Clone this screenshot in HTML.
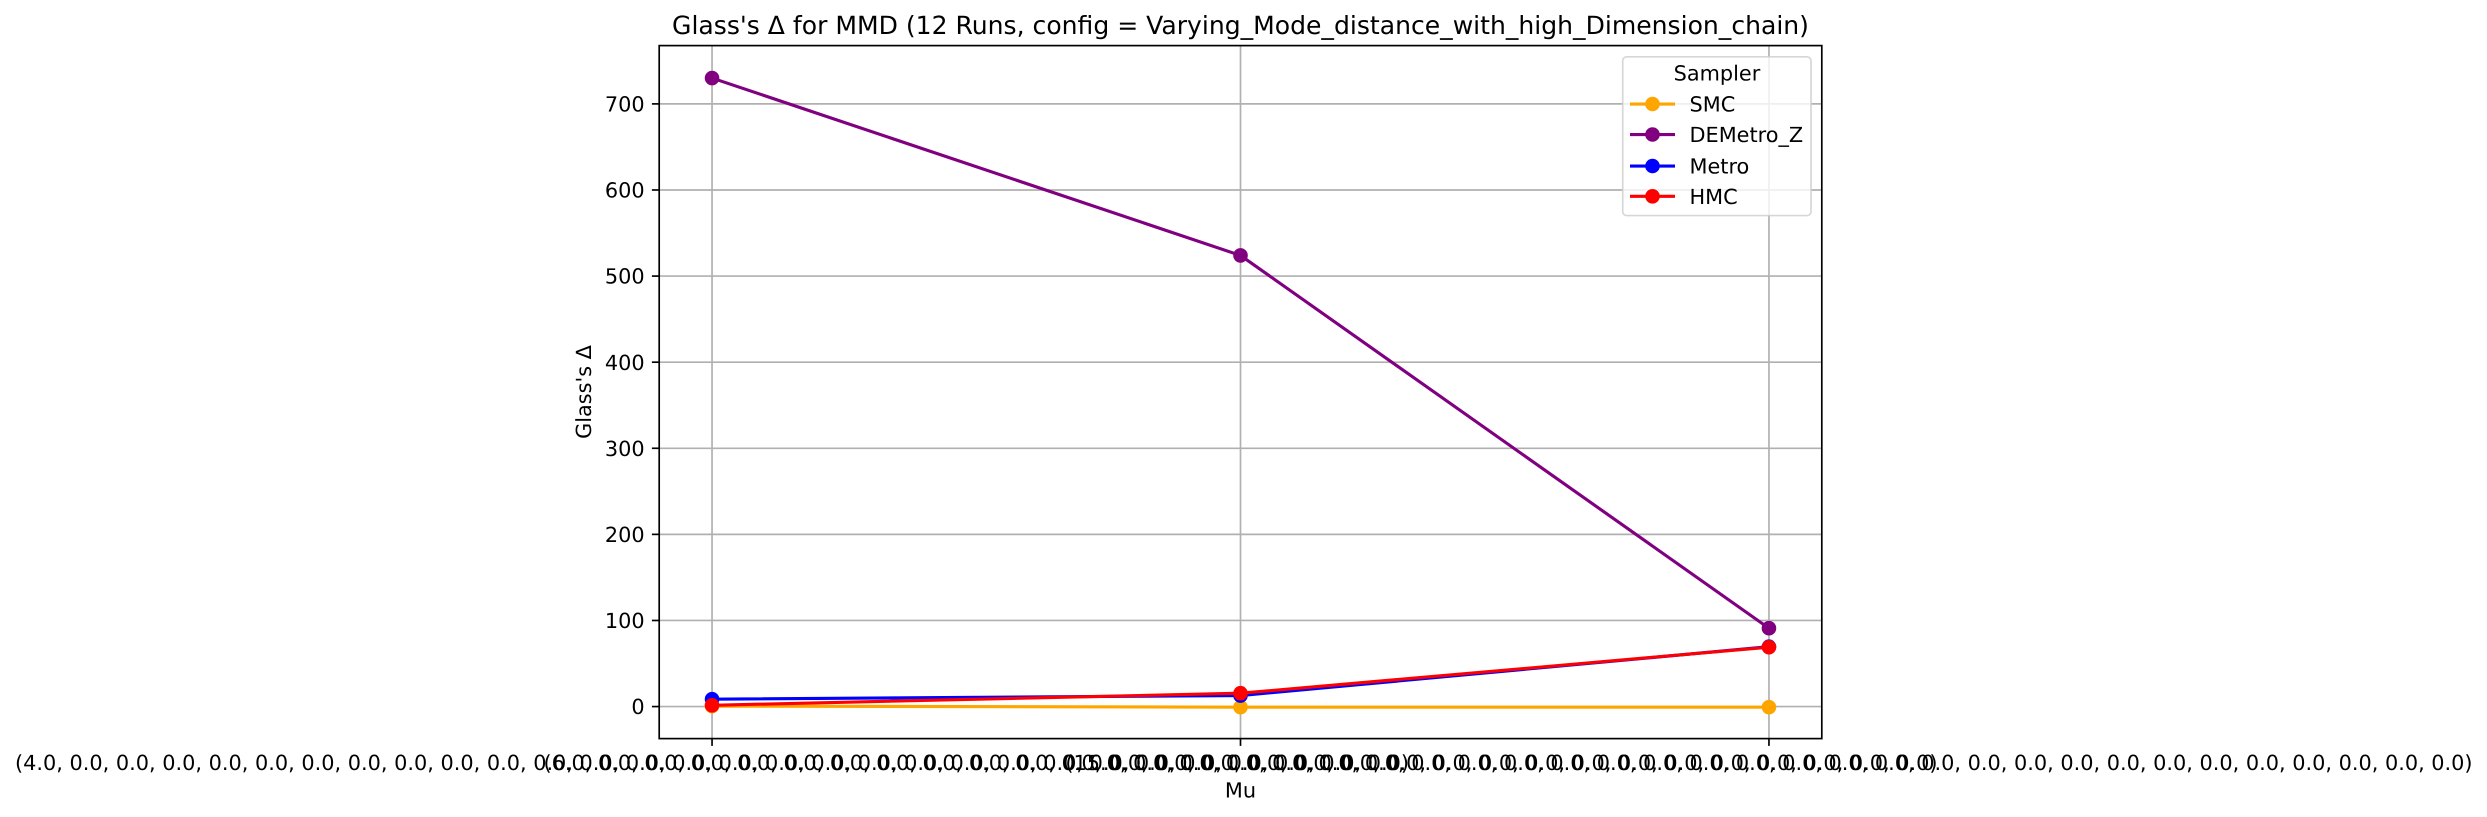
<!DOCTYPE html>
<html>
<head>
<meta charset="utf-8">
<style>
html,body{margin:0;padding:0;background:#fff;width:2487px;height:817px;overflow:hidden}
svg{display:block}
text{font-family:"DejaVu Sans","Liberation Sans",sans-serif;fill:#000;text-rendering:geometricPrecision}
</style>
</head>
<body>
<svg id="chart" width="2487" height="817" viewBox="0 0 2487 817" xmlns="http://www.w3.org/2000/svg">
<rect x="0" y="0" width="2487" height="817" fill="#fff"/>
<g id="grid"></g>
<g id="series"></g>
<rect x="659.2" y="45.6" width="1162.6" height="693" fill="none" stroke="#000" stroke-width="1.67"/>
<g id="ticks"></g>
<text x="1240.5" y="34" font-size="25.07" text-anchor="middle">Glass's Δ for MMD (12 Runs, config = Varying_Mode_distance_with_high_Dimension_chain)</text>
<text x="1240.5" y="797.5" font-size="20.83" text-anchor="middle">Mu</text>
<text transform="translate(591 392) rotate(-90)" font-size="20.83" text-anchor="middle">Glass's Δ</text>
<g id="legend">
<rect x="1622.7" y="56.8" width="188.3" height="158.8" rx="4" ry="4" fill="#fff" fill-opacity="0.8" stroke="#ccc" stroke-opacity="0.8" stroke-width="1.67"/>
<text x="1717" y="80.7" font-size="20.83" text-anchor="middle">Sampler</text>
</g>
</svg>
<script>
const categories = [
  "(4.0, 0.0, 0.0, 0.0, 0.0, 0.0, 0.0, 0.0, 0.0, 0.0, 0.0, 0.0, 0.0, 0.0, 0.0, 0.0, 0.0, 0.0, 0.0, 0.0, 0.0, 0.0, 0.0, 0.0, 0.0, 0.0, 0.0, 0.0, 0.0, 0.0)",
  "(6.0, 0.0, 0.0, 0.0, 0.0, 0.0, 0.0, 0.0, 0.0, 0.0, 0.0, 0.0, 0.0, 0.0, 0.0, 0.0, 0.0, 0.0, 0.0, 0.0, 0.0, 0.0, 0.0, 0.0, 0.0, 0.0, 0.0, 0.0, 0.0, 0.0)",
  "(15.0, 0.0, 0.0, 0.0, 0.0, 0.0, 0.0, 0.0, 0.0, 0.0, 0.0, 0.0, 0.0, 0.0, 0.0, 0.0, 0.0, 0.0, 0.0, 0.0, 0.0, 0.0, 0.0, 0.0, 0.0, 0.0, 0.0, 0.0, 0.0, 0.0)"
];
const yTicks = [0, 100, 200, 300, 400, 500, 600, 700];
const seriesNames = ["SMC", "DEMetro_Z", "Metro", "HMC"];
const seriesColors = ["orange", "purple", "blue", "red"];
const smcValues = [0.5, -0.7, -0.7];
const demetroValues = [730, 524, 91];
const metroValues = [8.6, 12.8, 69.5];
const hmcValues = [1.5, 15.5, 69];
const seriesValues = [smcValues, demetroValues, metroValues, hmcValues];

const NS = 'http://www.w3.org/2000/svg';
const plot = {left: 659.2, right: 1821.8, top: 45.6, bottom: 738.6};
const xMin = -0.1, xMax = 2.1, yMin = -37.2, yMax = 767.7;
function xScale(i) { return plot.left + (i - xMin) / (xMax - xMin) * (plot.right - plot.left); }
function yScale(v) { return plot.bottom - (v - yMin) / (yMax - yMin) * (plot.bottom - plot.top); }
function make(tag, attrs, parent) {
  const el = document.createElementNS(NS, tag);
  for (const k in attrs) el.setAttribute(k, attrs[k]);
  parent.appendChild(el);
  return el;
}
const gridG = document.getElementById('grid');
const ticksG = document.getElementById('ticks');
const seriesG = document.getElementById('series');
const legendG = document.getElementById('legend');

categories.forEach(function (label, i) {
  const x = xScale(i);
  const g = make('line', {x1: x, x2: x, y1: plot.top, y2: plot.bottom, stroke: '#b0b0b0', 'stroke-width': 1.67}, gridG);
  
  
  const t = make('line', {x1: x, x2: x, y1: plot.bottom, y2: plot.bottom + 7.3, stroke: '#000', 'stroke-width': 1.67}, ticksG);
  
  
  const txt = make('text', {x: x, y: 770, 'font-size': 20.83, 'text-anchor': 'middle'}, ticksG);
  
  
  txt.textContent = label;
});

yTicks.forEach(function (v) {
  const y = yScale(v);
  const g = make('line', {x1: plot.left, x2: plot.right, y1: y, y2: y, stroke: '#b0b0b0', 'stroke-width': 1.67}, gridG);
  
  
  const t = make('line', {x1: plot.left - 7.3, x2: plot.left, y1: y, y2: y, stroke: '#000', 'stroke-width': 1.67}, ticksG);
  
  
  const txt = make('text', {x: plot.left - 14.6, y: y + 7.6, 'font-size': 20.83, 'text-anchor': 'end'}, ticksG);
  
  
  txt.textContent = String(v);
});

seriesValues.forEach(function (vals, s) {
  const color = seriesColors[s];
  const pts = vals.map(function (v, i) { return xScale(i) + ',' + yScale(v); }).join(' ');
  const line = make('polyline', {points: pts, fill: 'none', stroke: color, 'stroke-width': 3.125, 'stroke-linejoin': 'round'}, seriesG);
  
  
  vals.forEach(function (v, i) {
    const c = make('circle', {cx: xScale(i), cy: yScale(v), r: 7.3, fill: color}, seriesG);
    
    
  });
});

const legendRowY = [104, 134.5, 166, 196.3];
seriesNames.forEach(function (name, s) {
  const y = legendRowY[s];
  const l = make('line', {x1: 1630, x2: 1675, y1: y, y2: y, stroke: seriesColors[s], 'stroke-width': 3.125}, legendG);
  
  
  const c = make('circle', {cx: 1652.5, cy: y, r: 7.3, fill: seriesColors[s]}, legendG);
  
  
  const t = make('text', {x: 1689.5, y: y + 7.6, 'font-size': 20.83}, legendG);
  
  
  t.textContent = name;
});
</script>
</body>
</html>
